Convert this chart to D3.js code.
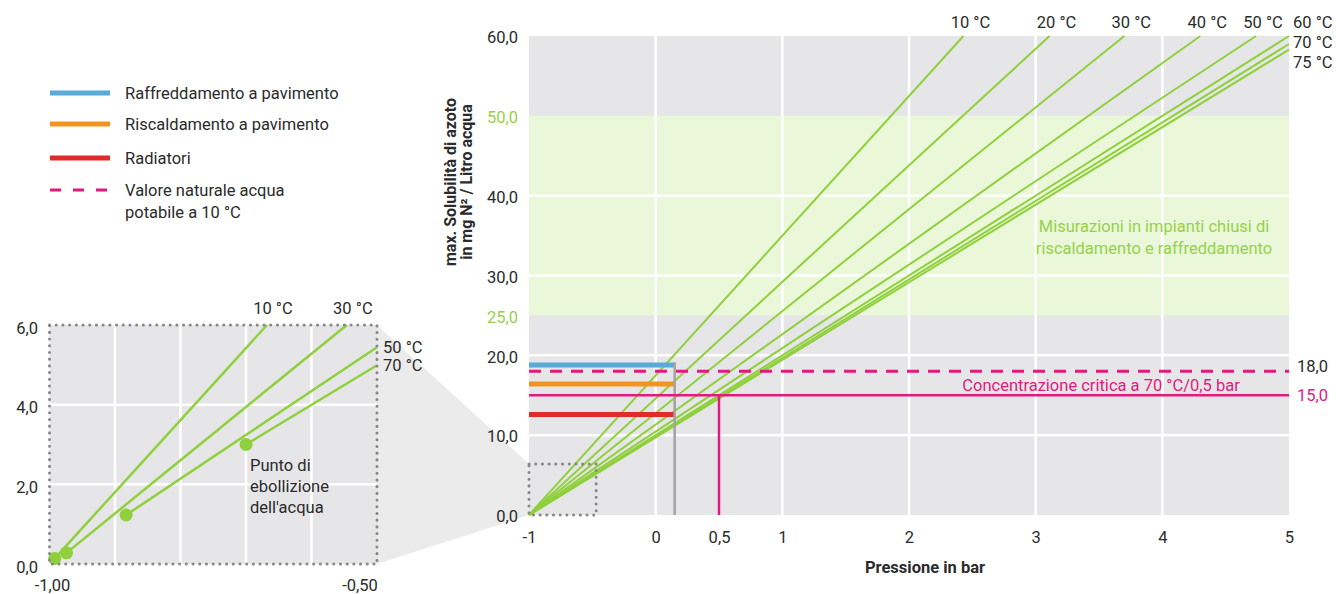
<!DOCTYPE html>
<html>
<head>
<meta charset="utf-8">
<script src="https://cdn.jsdelivr.net/npm/d3@7"></script>
<style>
  body { margin: 0; background: #fff; }
  svg text { font-family: Roboto, "Noto Sans", sans-serif; fill: #2b2b2b; }
</style>
</head>
<body>
<div id="chart"></div>
<script>
// main chart: solubility lines (start at -1 bar / 0 for all), end points
const mainTemps = ["10 °C", "20 °C", "30 °C", "40 °C", "50 °C", "60 °C", "70 °C", "75 °C"];
const mainEndP = [2.43, 3.11, 3.70, 4.30, 4.74, 5, 5, 5];
const mainEndS = [60, 60, 60, 60, 60, 60, 59.0, 58.3];

// systems (horizontal bars up to 0.15 bar)
const systemNames = ["Raffreddamento a pavimento", "Riscaldamento a pavimento", "Radiatori"];
const systemValues = [18.8, 16.4, 12.6];
const systemColors = ["#58aad8", "#f39420", "#e12b2b"];
const systemP = 0.15;

const naturalValue = 18.0;      // dashed
const criticalValue = 15.0;     // solid
const criticalP = 0.5;

const xTicks = [-1, 0, 0.5, 1, 2, 3, 4, 5];
const yTicks = [0, 10, 20, 25, 30, 40, 50, 60];
const greenTicks = [25, 50];
const xGrid = [0, 1, 2, 3, 4];
const yGrid = [10, 20, 30, 40];
const bandRange = [25, 50];
const zoomBoxP = [-1, -0.47];
const zoomBoxS = [0, 6.4];

// inset
const insetTemps = ["10 °C", "30 °C", "50 °C", "70 °C"];
const insetStartP = [-0.992, -0.974, -0.883, -0.70];
const insetStartS = [0.14, 0.28, 1.23, 3.0];
const insetEndP = [-0.668, -0.546, -0.5, -0.5];
const insetEndS = [6, 6, 5.44, 4.99];
const insetXTicks = [-1, -0.5];
const insetYTicks = [0, 2, 4, 6];
const insetXGrid = [-0.9, -0.8, -0.7, -0.6];
const insetYGrid = [2, 4];

const green = "#8fd03c", greenText = "#97d14a", magenta = "#e2197f", bg = "#e6e6e8";

const loc = d3.formatLocale({decimal: ",", thousands: ".", grouping: [3], currency: ["", "€"], minus: "-"});
const f1 = loc.format(".1f"), f2 = loc.format(".2f");
const fx = d => d === 0.5 ? "0,5" : loc.format("d")(d);

const svg = d3.select("#chart").append("svg").attr("width", 1336).attr("height", 594);

// ---------- legend ----------
const legend = svg.append("g");
const legendY = [93, 124, 158, 190];
systemNames.forEach((n, i) => {
  legend.append("line").attr("x1", 50).attr("x2", 110).attr("y1", legendY[i]).attr("y2", legendY[i])
    .attr("stroke", systemColors[i]).attr("stroke-width", 5);
  legend.append("text").attr("x", 125).attr("y", legendY[i]).attr("dy", "0.35em")
    .style("font-size", "16.5px").text(n);
});
legend.append("line").attr("x1", 50).attr("x2", 110).attr("y1", legendY[3]).attr("y2", legendY[3])
  .attr("stroke", magenta).attr("stroke-width", 3).attr("stroke-dasharray", "11,12");
legend.append("text").attr("x", 125).attr("y", legendY[3]).attr("dy", "0.35em")
  .style("font-size", "16.5px").text("Valore naturale acqua");
legend.append("text").attr("x", 125).attr("y", legendY[3] + 22).attr("dy", "0.35em")
  .style("font-size", "16.5px").text("potabile a 10 °C");

// ---------- main chart ----------
const x = d3.scaleLinear().domain([-1, 5]).range([529, 1289]);
const y = d3.scaleLinear().domain([0, 60]).range([515, 36]);

// wedge between inset and zoom box
const xi = d3.scaleLinear().domain([-1, -0.5]).range([49.5, 377]);
const yi = d3.scaleLinear().domain([0, 6]).range([564, 325]);
svg.append("path")
  .attr("d", `M${xi(-0.5)},${yi(6)}L${x(zoomBoxP[0])},${y(zoomBoxS[1])}L${x(zoomBoxP[0])},${y(0)}L${xi(-0.5)},${yi(0)}Z`)
  .attr("fill", "#ebebeb");

const main = svg.append("g");
main.append("rect").attr("x", x(-1)).attr("y", y(60)).attr("width", x(5) - x(-1)).attr("height", y(0) - y(60))
  .attr("fill", bg);
main.append("rect").attr("x", x(-1)).attr("y", y(bandRange[1])).attr("width", x(5) - x(-1))
  .attr("height", y(bandRange[0]) - y(bandRange[1])).attr("fill", "#eaf8d9");

main.selectAll(".vg").data(xGrid).join("line")
  .attr("x1", d => x(d)).attr("x2", d => x(d)).attr("y1", y(0)).attr("y2", y(60))
  .attr("stroke", "#fff").attr("stroke-width", 2.5);
main.selectAll(".hg").data(yGrid).join("line")
  .attr("x1", x(-1)).attr("x2", x(5)).attr("y1", d => y(d)).attr("y2", d => y(d))
  .attr("stroke", "#fff").attr("stroke-width", 2.5);

// axes
const xAxis = main.append("g").attr("transform", `translate(0,${y(0) + 13})`)
  .call(d3.axisBottom(x).tickValues(xTicks).tickFormat(fx).tickSize(0));
xAxis.select(".domain").remove();
xAxis.selectAll("text").style("font-size", "16.5px").style("font-family", null).style("fill", "#2b2b2b");

const yAxis = main.append("g").attr("transform", `translate(${x(-1) - 8},1)`)
  .call(d3.axisLeft(y).tickValues(yTicks).tickFormat(f1).tickSize(0));
yAxis.select(".domain").remove();
yAxis.selectAll("text").style("font-size", "16.5px").style("font-family", null).attr("dy", "0.35em")
  .style("fill", d => greenTicks.includes(d) ? greenText : "#2b2b2b");

// solubility lines
main.selectAll(".sl").data(mainTemps).join("line")
  .attr("x1", x(-1)).attr("y1", y(0))
  .attr("x2", (d, i) => x(mainEndP[i])).attr("y2", (d, i) => y(mainEndS[i]))
  .attr("stroke", green).attr("stroke-width", 2);

// temperature labels
let stack = 0;
mainTemps.forEach((t, i) => {
  if (mainEndP[i] < 5) {
    main.append("text").attr("x", x(mainEndP[i]) + 7).attr("y", 22).attr("dy", "0.35em")
      .attr("text-anchor", "middle").style("font-size", "16.5px").text(t);
  } else {
    main.append("text").attr("x", x(5) + 4).attr("y", 22 + 20 * stack).attr("dy", "0.35em")
      .style("font-size", "16.5px").text(t);
    stack++;
  }
});

// system bars
main.selectAll(".bar").data(systemValues).join("line")
  .attr("x1", x(-1)).attr("x2", x(systemP)).attr("y1", d => y(d)).attr("y2", d => y(d))
  .attr("stroke", (d, i) => systemColors[i]).attr("stroke-width", 5);
main.append("line").attr("x1", x(systemP)).attr("x2", x(systemP)).attr("y1", y(0)).attr("y2", y(d3.max(systemValues)) - 2.5)
  .attr("stroke", "#a2a2a2").attr("stroke-width", 2.5);

// natural value dashed
main.append("line").attr("x1", x(-1)).attr("x2", x(5)).attr("y1", y(naturalValue)).attr("y2", y(naturalValue))
  .attr("stroke", magenta).attr("stroke-width", 3).attr("stroke-dasharray", "12,9");
main.append("text").attr("x", x(5) + 8).attr("y", y(naturalValue) - 5).attr("dy", "0.35em")
  .style("font-size", "16.5px").text(f1(naturalValue));

// critical concentration
main.append("line").attr("x1", x(-1)).attr("x2", x(5)).attr("y1", y(criticalValue)).attr("y2", y(criticalValue))
  .attr("stroke", magenta).attr("stroke-width", 2.5);
main.append("line").attr("x1", x(criticalP)).attr("x2", x(criticalP)).attr("y1", y(0)).attr("y2", y(criticalValue))
  .attr("stroke", magenta).attr("stroke-width", 2.5);
main.append("text").attr("x", x(5) + 8).attr("y", y(criticalValue)).attr("dy", "0.35em")
  .style("font-size", "16.5px").style("fill", magenta).text(f1(criticalValue));
main.append("text").attr("x", 1101).attr("y", y(criticalValue) - 10).attr("dy", "0.35em")
  .attr("text-anchor", "middle").style("font-size", "16.5px").style("fill", magenta)
  .text("Concentrazione critica a 70 °C/0,5 bar");

// band label
const bandText = main.append("text").attr("text-anchor", "middle").style("font-size", "16.5px").style("fill", greenText);
bandText.append("tspan").attr("x", 1154).attr("y", 226).attr("dy", "0.35em").text("Misurazioni in impianti chiusi di");
bandText.append("tspan").attr("x", 1154).attr("y", 248).attr("dy", "0.35em").text("riscaldamento e raffreddamento");

// zoom box
main.append("rect").attr("x", x(zoomBoxP[0])).attr("y", y(zoomBoxS[1]))
  .attr("width", x(zoomBoxP[1]) - x(zoomBoxP[0])).attr("height", y(zoomBoxS[0]) - y(zoomBoxS[1]))
  .attr("fill", "none").attr("stroke", "#888").attr("stroke-width", 3)
  .attr("stroke-linecap", "round").attr("stroke-dasharray", "0.1,6.6");

// axis titles
main.append("text").attr("x", 925).attr("y", 567).attr("dy", "0.35em").attr("text-anchor", "middle")
  .style("font-size", "16.5px").style("font-weight", "bold").text("Pressione in bar");
const yt = main.append("text").attr("transform", "translate(450,182) rotate(-90)").attr("text-anchor", "middle")
  .style("font-size", "16px").style("font-weight", "bold");
yt.append("tspan").attr("x", 0).attr("y", 0).attr("dy", "0.35em").text("max. Solubilità di azoto");
yt.append("tspan").attr("x", 0).attr("y", 16).attr("dy", "0.35em").text("in mg N² / Litro acqua");

// ---------- inset ----------
const inset = svg.append("g");
inset.append("rect").attr("x", xi(-1)).attr("y", yi(6)).attr("width", xi(-0.5) - xi(-1)).attr("height", yi(0) - yi(6))
  .attr("fill", bg);
inset.selectAll(".ivg").data(insetXGrid).join("line")
  .attr("x1", d => xi(d)).attr("x2", d => xi(d)).attr("y1", yi(0)).attr("y2", yi(6))
  .attr("stroke", "#fff").attr("stroke-width", 2.5);
inset.selectAll(".ihg").data(insetYGrid).join("line")
  .attr("x1", xi(-1)).attr("x2", xi(-0.5)).attr("y1", d => yi(d)).attr("y2", d => yi(d))
  .attr("stroke", "#fff").attr("stroke-width", 2.5);

inset.selectAll(".il").data(insetTemps).join("line")
  .attr("x1", (d, i) => xi(insetStartP[i])).attr("y1", (d, i) => yi(insetStartS[i]))
  .attr("x2", (d, i) => xi(insetEndP[i])).attr("y2", (d, i) => yi(insetEndS[i]))
  .attr("stroke", green).attr("stroke-width", 2.5);
inset.selectAll(".dot").data(insetTemps).join("circle")
  .attr("cx", (d, i) => xi(insetStartP[i])).attr("cy", (d, i) => yi(insetStartS[i]))
  .attr("r", 6.5).attr("fill", green);

insetTemps.forEach((t, i) => {
  if (insetEndS[i] >= 6) {
    inset.append("text").attr("x", xi(insetEndP[i]) + 6).attr("y", yi(6) - 17).attr("dy", "0.35em")
      .attr("text-anchor", "middle").style("font-size", "16.5px").text(t);
  } else {
    inset.append("text").attr("x", xi(-0.5) + 6).attr("y", yi(insetEndS[i])).attr("dy", "0.35em")
      .style("font-size", "16.5px").text(t);
  }
});

const boil = inset.append("text").style("font-size", "16.5px");
["Punto di", "ebollizione", "dell'acqua"].forEach((s, i) => {
  boil.append("tspan").attr("x", 250).attr("y", 465 + 21 * i).attr("dy", "0.35em").text(s);
});

inset.append("rect").attr("x", xi(-1)).attr("y", yi(6)).attr("width", xi(-0.5) - xi(-1)).attr("height", yi(0) - yi(6))
  .attr("fill", "none").attr("stroke", "#888").attr("stroke-width", 3)
  .attr("stroke-linecap", "round").attr("stroke-dasharray", "0.1,6.6");

inset.selectAll(".iyt").data(insetYTicks).join("text")
  .attr("x", 38).attr("y", d => yi(d) + 3).attr("dy", "0.35em").attr("text-anchor", "end")
  .style("font-size", "16.5px").text(f1);
inset.selectAll(".ixt").data(insetXTicks).join("text")
  .attr("x", d => d === -1 ? xi(d) + 3 : xi(d) - 17).attr("y", 585).attr("dy", "0.35em").attr("text-anchor", "middle")
  .style("font-size", "16.5px").text(f2);
</script>
</body>
</html>
